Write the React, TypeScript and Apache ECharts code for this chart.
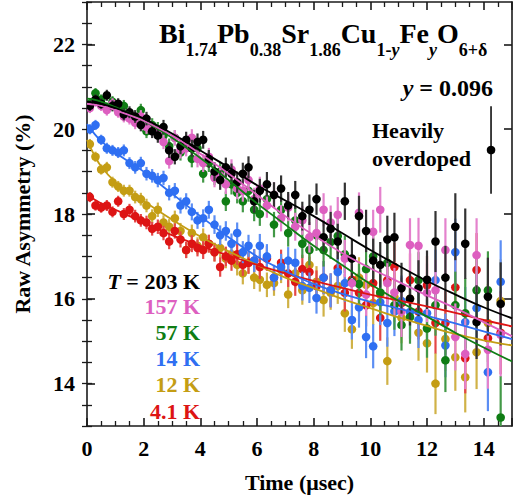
import React, { useEffect, useRef } from "react";
import * as echarts from "echarts";

// ---------- data ----------
const times = [
  0.1, 0.3, 0.5, 0.7, 0.9, 1.1, 1.3, 1.5, 1.7, 1.9, 2.1, 2.3, 2.5, 2.7, 2.9,
  3.1, 3.3, 3.5, 3.7, 3.9, 4.1, 4.3, 4.5, 4.7, 4.9, 5.1, 5.3, 5.5, 5.7, 5.9,
  6.1, 6.35, 6.6, 6.85, 7.1, 7.35, 7.6, 7.85, 8.1, 8.35, 8.6, 8.85, 9.1, 9.35,
  9.6, 9.85, 10.1, 10.35, 10.6, 10.85, 11.1, 11.4, 11.7, 12.0, 12.3, 12.65,
  13.0, 13.35, 13.75, 14.15, 14.6,
];
const errors = [
  0.12, 0.12, 0.12, 0.13, 0.13, 0.13, 0.14, 0.14, 0.15, 0.15, 0.16, 0.16, 0.17,
  0.17, 0.18, 0.18, 0.19, 0.19, 0.2, 0.2, 0.21, 0.21, 0.22, 0.23, 0.23, 0.24,
  0.25, 0.26, 0.26, 0.27,
  0.28, 0.29, 0.3, 0.31, 0.32, 0.33, 0.34, 0.36, 0.37, 0.39, 0.4, 0.42, 0.44,
  0.46, 0.48, 0.5, 0.52, 0.54, 0.56, 0.58, 0.6, 0.63, 0.66, 0.69, 0.72, 0.75,
  0.79, 0.83, 0.87, 0.92, 0.98,
];
const asym203 = [
  20.55, 20.7, 20.6, 20.8, 20.55, 20.6, 20.35, 20.4, 20.3, 20.1, 20.25, 19.95,
  19.85, 20.05, 19.5, 19.35, 19.6, 19.75, 19.55, 19.7, 19.75, 19.3, 19.0, 18.8,
  19.1, 18.95, 18.75, 18.95, 19.1, 18.3,
  18.55, 18.7, 18.45, 18.6, 18.2, 18.45, 17.95, 18.1, 18.35, 17.45, 17.65,
  17.35, 18.3, 16.95, 17.95, 17.6, 16.9, 16.8, 17.4, 17.45, 16.25, 16.0, 16.25,
  16.45, 17.35, 16.5, 17.7, 17.3, 15.45, 16.05, 15.88,
];
const asym157 = [
  20.5, 20.65, 20.55, 20.45, 20.6, 20.4, 20.3, 20.25, 20.15, 20.3, 20.05, 20.0,
  19.9, 19.7, 19.25, 19.8, 19.5, 19.55, 19.8, 19.3, 19.2, 19.35, 18.85, 18.9,
  18.7, 19.05, 18.6, 18.55, 18.8, 18.35,
  18.6, 18.2, 18.45, 17.9, 18.15, 17.7, 17.85, 17.45, 17.55, 18.1, 17.8, 17.98,
  16.95, 16.37, 18.03, 16.1, 17.58, 18.1, 16.37, 16.15, 15.7, 17.27, 17.25,
  16.14, 16.2, 17.15, 15.1, 14.7, 17.03, 14.8, 15.15,
];
const asym57 = [
  20.6, 20.85, 20.7, 20.5, 20.65, 20.45, 20.55, 20.35, 20.2, 20.45, 19.95, 20.1,
  20.0, 19.85, 19.6, 19.8, 19.45, 19.65, 19.3, 19.55, 18.95, 19.2, 18.9, 19.0,
  18.3, 18.7, 18.5, 18.3, 18.55, 18.1,
  18.0, 18.35, 17.75, 18.1, 17.55, 17.85, 17.3, 17.15, 17.5, 17.15, 17.34,
  17.48, 17.05, 16.4, 16.35, 16.7, 17.0, 16.15, 16.85, 15.85, 15.38, 15.57,
  16.44, 15.3, 15.85, 14.55, 15.85, 15.66, 16.2, 16.2, 13.2,
];
const asym14 = [
  20.0, 20.1, 19.75, 19.55, 19.5, 19.45, 19.5, 19.2, 19.1, 19.2, 18.95, 18.9,
  18.8, 18.85, 18.5, 18.55, 18.2, 18.3, 18.05, 17.85, 17.9, 18.1, 17.75, 17.5,
  17.6, 17.3, 17.55, 17.1, 17.25, 16.9,
  17.25, 17.0, 16.5, 16.75, 16.9, 16.85, 16.3, 16.26, 16.02, 16.5, 16.2, 16.63,
  16.37, 15.5, 15.8, 15.1, 14.88, 15.92, 15.43, 15.7, 15.95, 15.69, 15.5,
  15.66, 16.44, 14.9, 17.1, 15.45, 15.78, 14.27, 16.4,
];
const asym12 = [
  19.65, 19.35, 19.05, 19.1, 18.75, 18.65, 18.55, 18.55, 18.4, 18.35, 18.2,
  17.95, 18.1, 17.8, 17.7, 17.9, 17.6, 17.15, 17.55, 17.25, 17.45, 17.3, 17.1,
  17.2, 16.95, 17.05, 16.8, 16.6, 16.85, 16.5,
  16.45, 16.33, 16.37, 16.68, 16.1, 16.6, 16.2, 16.8, 16.4, 15.97, 16.14, 16.3,
  15.66, 15.28, 16.5, 16.33, 15.9, 16.1, 14.53, 16.04, 15.55, 16.0, 15.2,
  14.95, 14.0, 15.05, 14.62, 14.15, 14.74, 15.43, 15.95,
];
const asym4 = [
  18.4, 18.2, 18.15, 18.2, 18.05, 18.3, 18.0, 18.1, 17.95, 17.85, 17.8, 17.65,
  17.7, 17.55, 17.35, 17.6, 17.4, 17.15, 17.3, 17.2, 17.15, 17.3, 17.1, 16.75,
  17.0, 16.9, 17.05, 16.8, 16.85, 16.9,
  16.75, 16.95, 16.5, 16.85, 16.6, 16.4, 16.7, 16.63, 16.3, 16.5, 16.2, 16.72,
  16.14, 16.45, 16.14, 15.85, 16.37, 15.55, 16.44, 16.75, 15.9, 16.44, 15.7,
  16.32, 15.43, 15.43, 16.27, 14.6, 16.68, 15.07, 15.2,
];

const fitTimes = [0, 0.25, 0.5, 1, 1.5, 2, 3, 4, 5, 6, 7, 8, 9, 10, 11, 12, 13, 14, 15];
const fit203 = [20.65, 20.63, 20.6, 20.5, 20.38, 20.25, 19.9, 19.5, 19.1, 18.68, 18.32, 17.95, 17.55, 17.15, 16.78, 16.42, 16.1, 15.8, 15.54];
const fit157 = [20.6, 20.58, 20.55, 20.45, 20.33, 20.2, 19.85, 19.42, 18.95, 18.45, 17.95, 17.5, 17.08, 16.72, 16.4, 16.08, 15.78, 15.45, 15.12];
const fit57 = [20.72, 20.7, 20.65, 20.52, 20.38, 20.2, 19.8, 19.32, 18.8, 18.25, 17.75, 17.25, 16.8, 16.35, 15.95, 15.58, 15.2, 14.85, 14.52];
const fit14 = [20.12, 19.9, 19.72, 19.45, 19.22, 19.0, 18.48, 17.95, 17.45, 17.0, 16.65, 16.35, 16.12, 15.93, 15.77, 15.6, 15.42, 15.23, 15.05];
const fit12 = [19.75, 19.4, 19.12, 18.75, 18.5, 18.3, 17.87, 17.47, 17.12, 16.8, 16.5, 16.25, 16.0, 15.78, 15.56, 15.36, 15.17, 15.02, 14.9];
const fit4 = [18.45, 18.35, 18.25, 18.1, 17.95, 17.8, 17.5, 17.25, 17.02, 16.8, 16.6, 16.42, 16.26, 16.1, 15.96, 15.82, 15.67, 15.5, 15.35];

// typical error bar shown beside "Heavily overdoped" [time, value, error]
const sampleBar = [[14.26, 19.51, 1.03]];

const tempLabels = ["203 K", "157 K", "57 K", "14 K", "12 K", "4.1 K"];
const majorYTicks = [14, 16, 18, 20, 22];

// ---------- styling ----------
const FONT = "'Liberation Serif', 'Times New Roman', serif";
const COLORS: Record<string, string> = {
  k203: "#000000",
  k157: "#dd5fc0",
  k57: "#0f7d14",
  k14: "#2f6ff2",
  k12: "#c49d14",
  k4: "#dd1414",
};

const seriesDefs = [
  { key: "k12", vals: asym12, fit: fit12 },
  { key: "k4", vals: asym4, fit: fit4 },
  { key: "k14", vals: asym14, fit: fit14 },
  { key: "k57", vals: asym57, fit: fit57 },
  { key: "k157", vals: asym157, fit: fit157 },
  { key: "k203", vals: asym203, fit: fit203 },
];

function errRender(color: string, barColor: string, barWidth: number, r: number) {
  return (params: any, api: any) => {
    const x = api.value(0);
    const y = api.value(1);
    const e = api.value(2);
    const top = api.coord([x, y + e]);
    const bot = api.coord([x, y - e]);
    const c = api.coord([x, y]);
    return {
      type: "group",
      children: [
        {
          type: "line",
          shape: { x1: top[0], y1: top[1], x2: bot[0], y2: bot[1] },
          style: { stroke: barColor, lineWidth: barWidth },
        },
        {
          type: "circle",
          shape: { cx: c[0], cy: c[1], r },
          style: { fill: color },
        },
      ],
    };
  };
}

export default function App() {
  const ref = useRef<HTMLDivElement>(null);
  useEffect(() => {
    document.body.style.margin = "0";
    if (!ref.current) return;
    const chart = echarts.init(ref.current, undefined, { renderer: "svg" });

    const axisLineStyle = { color: "#1a1a1a", width: 1.6 };
    const minorStyle = { color: "#1a1a1a", width: 1.3 };
    const labelStyle = {
      fontFamily: FONT,
      fontWeight: "bold" as const,
      fontSize: 22,
      color: "#000",
    };

    const series: any[] = [];
    seriesDefs.forEach((d) => {
      const color = COLORS[d.key];
      const light = d.key === "k203" ? "#333" : echarts.color.lift(color, 0.22);
      series.push({
        type: "custom",
        name: d.key + "-pts",
        clip: true,
        z: 2,
        renderItem: errRender(color, light, 2.2, 4.3),
        encode: { x: 0, y: 1 },
        data: times.map((t, i) => [t, d.vals[i], errors[i]]),
        silent: true,
      });
    });
    seriesDefs.forEach((d) => {
      const color = COLORS[d.key];
      series.push({
        type: "line",
        name: d.key + "-fit",
        data: fitTimes.map((t, i) => [t, d.fit[i]]),
        smooth: 0.4,
        showSymbol: false,
        symbol: "none",
        z: 5,
        lineStyle: { color, width: 1.8 },
        silent: true,
      });
    });
    series.push({
      type: "custom",
      name: "sample",
      clip: false,
      z: 5,
      renderItem: errRender("#000", "#000", 1.5, 4.3),
      encode: { x: 0, y: 1 },
      data: sampleBar,
      silent: true,
    });

    const tempColors = [COLORS.k203, COLORS.k157, COLORS.k57, COLORS.k14, COLORS.k12, COLORS.k4];
    const tempY = [281, 306, 332, 358, 384, 411];
    const tempTexts = tempLabels.map((lab, i) => ({
      type: "text",
      z: 20,
      style: {
        x: 200,
        y: tempY[i],
        align: "right",
        verticalAlign: "middle",
        text: i === 0 ? "{it|T} = " + lab : lab,
        fill: tempColors[i],
        fontFamily: FONT,
        fontWeight: "bold",
        fontSize: 22,
        rich: {
          it: { fontStyle: "italic", fontFamily: FONT, fontWeight: "bold", fontSize: 22, fill: tempColors[i] },
        },
      },
    }));

    const m = { fontFamily: FONT, fontWeight: "bold", fontSize: 28, lineHeight: 40, verticalAlign: "top", fill: "#000" };
    const s = { fontFamily: FONT, fontWeight: "bold", fontSize: 18, lineHeight: 40, verticalAlign: "bottom", fill: "#000" };
    const si = { ...s, fontStyle: "italic" };

    const option: any = {
      animation: false,
      backgroundColor: "#fff",
      grid: { left: 87, right: 3, top: 2, bottom: 73, containLabel: false },
      xAxis: [
        {
          type: "value",
          min: 0,
          max: 15,
          interval: 2,
          position: "bottom",
          axisLine: { show: true, onZero: false, lineStyle: axisLineStyle },
          axisTick: { show: true, inside: true, length: 8, lineStyle: axisLineStyle },
          minorTick: { show: true, splitNumber: 4, length: 5, lineStyle: minorStyle },
          splitLine: { show: false },
          axisLabel: { ...labelStyle, margin: 11, showMaxLabel: false, formatter: (v: number) => (v > 14.5 ? "" : String(v)) },
          name: "Time (μsec)",
          nameLocation: "middle",
          nameGap: 45,
          nameTextStyle: { ...labelStyle, fontSize: 22 },
        },
        {
          type: "value",
          min: 0,
          max: 15,
          interval: 2,
          position: "top",
          axisLine: { show: true, onZero: false, lineStyle: axisLineStyle },
          axisTick: { show: true, inside: true, length: 8, lineStyle: axisLineStyle },
          minorTick: { show: true, splitNumber: 4, length: 5, lineStyle: minorStyle },
          splitLine: { show: false },
          axisLabel: { show: false },
        },
      ],
      yAxis: [
        {
          type: "value",
          min: 13,
          max: 23,
          position: "left",
          axisLine: { show: true, onZero: false, lineStyle: axisLineStyle },
          axisTick: { show: true, inside: true, length: 8, lineStyle: axisLineStyle, customValues: majorYTicks },
          splitLine: { show: false },
          axisLabel: { ...labelStyle, margin: 12, customValues: majorYTicks },
          name: "Raw Asymmetry (%)",
          nameLocation: "middle",
          nameGap: 54,
          nameRotate: 90,
          nameTextStyle: { ...labelStyle, fontSize: 22 },
        },
        {
          type: "value",
          min: 13,
          max: 23,
          interval: 0.5,
          position: "left",
          axisLine: { show: false },
          axisTick: { show: true, inside: true, length: 5, lineStyle: minorStyle },
          splitLine: { show: false },
          axisLabel: { show: false },
        },
        {
          type: "value",
          min: 13,
          max: 23,
          position: "right",
          axisLine: { show: true, onZero: false, lineStyle: axisLineStyle },
          axisTick: { show: true, inside: true, length: 8, lineStyle: axisLineStyle, customValues: majorYTicks },
          splitLine: { show: false },
          axisLabel: { show: false },
        },
        {
          type: "value",
          min: 13,
          max: 23,
          interval: 0.5,
          position: "right",
          axisLine: { show: false },
          axisTick: { show: true, inside: true, length: 5, lineStyle: minorStyle },
          splitLine: { show: false },
          axisLabel: { show: false },
        },
      ],
      series,
      graphic: [
        {
          type: "text",
          z: 20,
          style: {
            x: 159,
            y: 19,
            verticalAlign: "top",
            text:
              "{m|Bi}{s|1.74}{m|Pb}{s|0.38}{m|Sr}{s|1.86}{m|Cu}{s|1-}{si|y}{m|Fe}{si|y}{m|O}{s|6+δ}",
            rich: { m, s, si },
            fontFamily: FONT,
          },
        },
        {
          type: "text",
          z: 20,
          style: {
            x: 493,
            y: 88,
            align: "right",
            verticalAlign: "middle",
            text: "{i|y} = 0.096",
            fontFamily: FONT,
            fontWeight: "bold",
            fontSize: 24,
            fill: "#000",
            rich: { i: { fontFamily: FONT, fontWeight: "bold", fontStyle: "italic", fontSize: 24, fill: "#000" } },
          },
        },
        {
          type: "text",
          z: 20,
          style: { x: 372, y: 130, verticalAlign: "middle", text: "Heavily", fontFamily: FONT, fontWeight: "bold", fontSize: 22, fill: "#000" },
        },
        {
          type: "text",
          z: 20,
          style: { x: 372, y: 158, verticalAlign: "middle", text: "overdoped", fontFamily: FONT, fontWeight: "bold", fontSize: 22, fill: "#000" },
        },
        ...tempTexts,
      ],
    };
    chart.setOption(option);
    return () => chart.dispose();
  }, []);
  return <div ref={ref} style={{ width: 515, height: 499 }} />;
}
